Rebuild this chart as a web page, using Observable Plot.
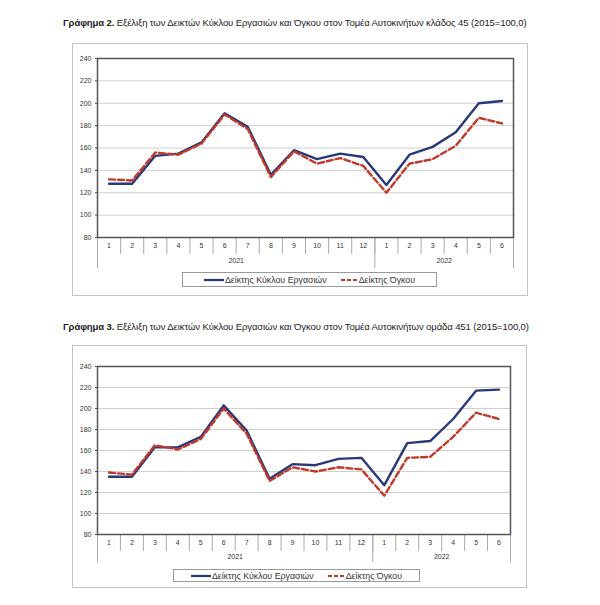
<!DOCTYPE html>
<html><head><meta charset="utf-8">
<script src="https://cdn.jsdelivr.net/npm/d3@7"></script>
<script src="https://cdn.jsdelivr.net/npm/@observablehq/plot@0.6"></script>
<style>
body{margin:0;background:#fff;width:600px;height:605px;position:relative;font-family:"Liberation Sans",Arial,sans-serif;overflow:hidden}
.title{position:absolute;font-size:9.5px;color:#222;white-space:nowrap;letter-spacing:-0.1px}
.title b{font-weight:bold}
.box{position:absolute;border:1px solid #c4c4c4;box-sizing:border-box}
.chart{position:absolute}
.legend{position:absolute;border:1px solid #9a9a9a;box-sizing:border-box;display:flex;align-items:center;justify-content:center;font-size:8.8px;color:#333;white-space:nowrap;background:#fff}
.legend span{display:inline-flex;align-items:center}
.legend svg{margin-right:1px}
</style></head>
<body>
<div class="title" style="left:63px;top:17px"><b>Γράφημα 2.</b> Εξέλιξη των Δεικτών Κύκλου Εργασιών και Όγκου στον Τομέα Αυτοκινήτων κλάδος 45 (2015=100,0)</div>
<div class="box" style="left:72px;top:43px;width:456px;height:253px"></div>
<div class="chart" id="c1" style="left:72px;top:43px"></div>
<div class="legend" id="l1" style="left:182px;top:272px;width:255px;height:15px"></div>

<div class="title" style="left:63px;top:321px"><b>Γράφημα 3.</b> Εξέλιξη των Δεικτών Κύκλου Εργασιών και Όγκου στον Τομέα Αυτοκινήτων ομάδα 451 (2015=100,0)</div>
<div class="box" style="left:72px;top:345px;width:455px;height:243px"></div>
<div class="chart" id="c2" style="left:72px;top:345px"></div>
<div class="legend" id="l2" style="left:173px;top:569px;width:247px;height:13px"></div>

<script>
const months = [1,2,3,4,5,6,7,8,9,10,11,12,1,2,3,4,5,6];
const years = ["2021","2022"];
const yearCenters = [6, 15];
const yearBounds = [0, 12, 18];
const yTicks = [80,100,120,140,160,180,200,220,240];
const seriesNames = ["Δείκτης Κύκλου Εργασιών", "Δείκτης Όγκου"];

// Γράφημα 2 - κλάδος 45
const turnover45 = [128,128,153,155,165,191,179,136,158,150,155,152,127,154,161,174,200,202];
const volume45   = [132,131,156,154,164,190,177,134,157,146,151,144,120,146,150,162,187,182];
// Γράφημα 3 - ομάδα 451
const turnover451 = [135,135,163,163,173,203,179,133,147,146,152,153,127,167,169,190,217,218];
const volume451   = [139,137,165,161,171,200,176,131,144,140,144,142,117,153,154,173,196,190];

const blue = "#2b3878", red = "#c0392b";

function makeChart(turn, vol, o) {
  const rows = months.map((m, i) => ({x: i + 0.5, month: m, turnover: turn[i], volume: vol[i]}));
  return Plot.plot({
    width: o.width, height: o.height,
    marginLeft: o.ml, marginRight: o.mr, marginTop: o.mt, marginBottom: o.mb,
    style: {fontFamily: "Liberation Sans, Arial, sans-serif", background: "transparent"},
    x: {type: "linear", domain: [0, months.length], label: null},
    y: {domain: [80, 240], label: null},
    marks: [
      Plot.gridY(yTicks.filter(t => t > 80 && t < 240), {stroke: "#cfcfcf", strokeOpacity: 1}),
      Plot.axisY(yTicks, {label: null, tickSize: 2, tickPadding: 4, fontSize: 7, fill: "#333", stroke: "#555", tickFormat: d => String(d)}),
      Plot.axisX(rows.map(r => r.x), {label: null, tickSize: 0, tickPadding: 6, fontSize: 7, fill: "#333", tickFormat: d => String(months[Math.floor(d)])}),
      Plot.axisX(d3.range(0, months.length + 1), {label: null, tickSize: 17, stroke: "#aaa", tickFormat: () => ""}),
      Plot.axisX(yearBounds, {label: null, tickSize: o.yearTick, stroke: "#aaa", tickFormat: () => ""}),
      Plot.axisX(yearCenters, {label: null, tickSize: 0, tickPadding: o.yearPad, fontSize: 7, fill: "#333", tickFormat: d => years[yearCenters.indexOf(d)]}),
      Plot.frame({stroke: "#555", strokeWidth: 1.5}),
      Plot.line(rows, {x: "x", y: "turnover", stroke: blue, strokeWidth: 2.4}),
      Plot.line(rows, {x: "x", y: "volume", stroke: red, strokeWidth: 2.4, strokeDasharray: "6,3"})
    ]
  });
}

document.getElementById("c1").append(makeChart(turnover45, volume45,
  {width: 456, height: 253, ml: 25, mr: 15, mt: 15, mb: 59, yearTick: 31, yearPad: 21}));
document.getElementById("c2").append(makeChart(turnover451, volume451,
  {width: 455, height: 243, ml: 25, mr: 17, mt: 21, mb: 54, yearTick: 28, yearPad: 20}));

function legend(el) {
  el.innerHTML =
    `<span><svg width="20" height="6"><line x1="0" x2="20" y1="3" y2="3" stroke="${blue}" stroke-width="2.2"/></svg>${seriesNames[0]}</span>` +
    `<span style="margin-left:14px"><svg width="17" height="6"><line x1="0" x2="17" y1="3" y2="3" stroke="${red}" stroke-width="2.2" stroke-dasharray="4,2"/></svg>${seriesNames[1]}</span>`;
}
legend(document.getElementById("l1"));
legend(document.getElementById("l2"));
</script>
</body></html>
